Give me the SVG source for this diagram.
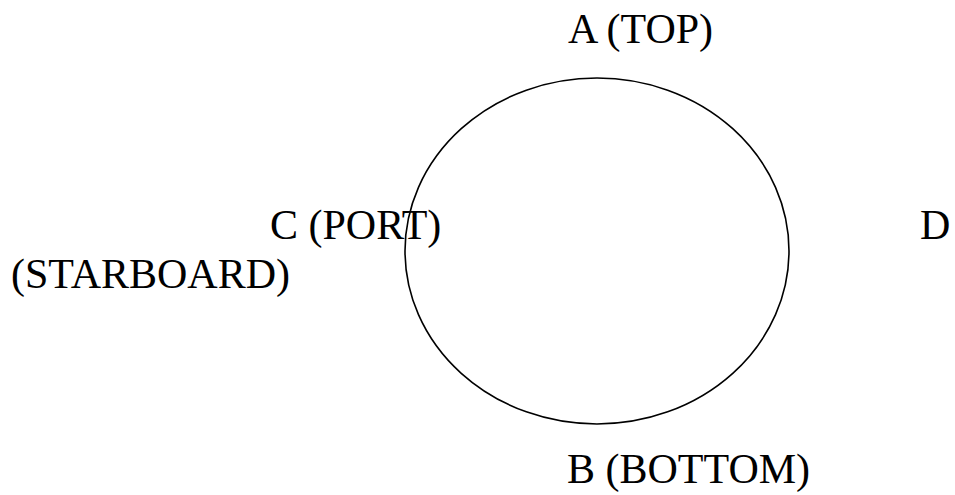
<svg xmlns="http://www.w3.org/2000/svg" width="955" height="495" viewBox="0 0 955 495">
<style>
text{font-family:"Liberation Serif","Times New Roman",serif;font-size:42px;fill:#000}
.shape{fill:none;stroke:#000;stroke-width:1.6}
</style>
<rect width="955" height="495" fill="#fff"/>
<g id="circle"><ellipse class="shape" cx="597" cy="251" rx="192" ry="173"/></g>
<g id="label-a"><text x="568" y="43">A (TOP)</text></g>
<g id="label-c"><text x="270" y="239">C (PORT)</text></g>
<g id="label-d"><text x="920" y="239">D</text></g>
<g id="label-starboard"><text x="11" y="288">(STARBOARD)</text></g>
<g id="label-b"><text x="567" y="483">B (BOTTOM)</text></g>
<g id="connectors"></g>
</svg>
